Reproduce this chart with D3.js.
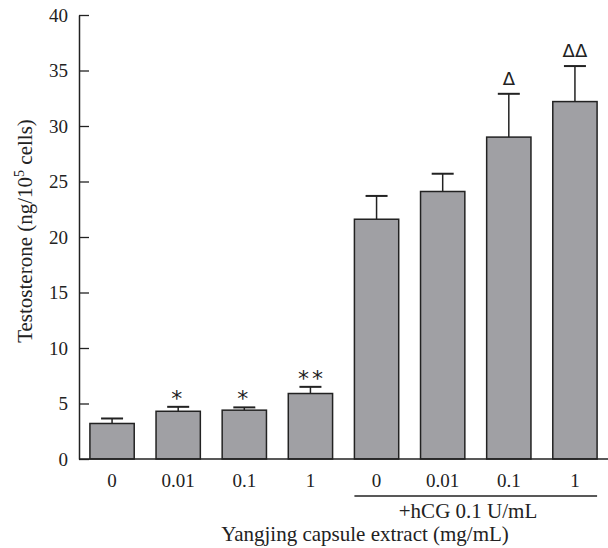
<!DOCTYPE html>
<html>
  <head>
    <meta charset="utf-8">
    <title>Testosterone</title>
    <script src="https://d3js.org/d3.v7.min.js"></script>
    <style>
      body { margin: 0; background: #fff; }
    </style>
  </head>
  <body>
    <script>
      var width = 608,
          height = 548;
      var serif = "Liberation Serif, DejaVu Serif, serif";

      // data
      var doses = ["0", "0.01", "0.1", "1", "0", "0.01", "0.1", "1"];
      var means = [3.2, 4.3, 4.4, 5.9, 21.6, 24.1, 29.0, 32.2];
      var errs = [0.45, 0.4, 0.25, 0.6, 2.1, 1.6, 3.9, 3.2];
      var marks = ["", "*", "*", "**", "", "", "\u0394", "\u0394\u0394"];
      var yTicks = [0, 5, 10, 15, 20, 25, 30, 35, 40];

      var svg = d3.select("body").append("svg")
          .attr("width", width)
          .attr("height", height)
          .attr("font-family", serif)
          .attr("fill", "#222");

      var x = d3.scaleBand()
          .domain(d3.range(doses.length))
          .range([79, 608])
          .paddingInner(0.33)
          .paddingOuter(0.165);

      var y = d3.scaleLinear()
          .domain([0, 40])
          .range([459, 15]);

      // y axis, ticks pointing inward
      var yAxis = svg.append("g")
          .attr("transform", "translate(79,0)")
          .call(d3.axisRight(y).tickValues(yTicks).tickSize(10).tickSizeOuter(0));
      yAxis.attr("font-family", serif).attr("font-size", 19);
      yAxis.select(".domain").attr("stroke", "#222").attr("stroke-width", 1.5);
      yAxis.selectAll(".tick line").attr("stroke", "#222").attr("stroke-width", 1.3);
      yAxis.selectAll(".tick text")
          .attr("x", -11)
          .attr("text-anchor", "end")
          .attr("fill", "#222");

      // error bars
      var eb = svg.append("g").selectAll("g")
          .data(means)
          .enter().append("g");
      eb.append("line")
          .attr("x1", function(d, i) { return x(i) + x.bandwidth() / 2; })
          .attr("x2", function(d, i) { return x(i) + x.bandwidth() / 2; })
          .attr("y1", function(d) { return y(d); })
          .attr("y2", function(d, i) { return y(d + errs[i]); })
          .attr("stroke", "#222").attr("stroke-width", 1.5);
      eb.append("line")
          .attr("x1", function(d, i) { return x(i) + x.bandwidth() / 2 - 11; })
          .attr("x2", function(d, i) { return x(i) + x.bandwidth() / 2 + 11; })
          .attr("y1", function(d, i) { return y(d + errs[i]); })
          .attr("y2", function(d, i) { return y(d + errs[i]); })
          .attr("stroke", "#222").attr("stroke-width", 2);

      // bars
      svg.append("g").selectAll("rect")
          .data(means)
          .enter().append("rect")
          .attr("x", function(d, i) { return x(i); })
          .attr("y", function(d) { return y(d); })
          .attr("width", x.bandwidth())
          .attr("height", function(d) { return y(0) - y(d); })
          .attr("fill", "#a0a0a4")
          .attr("stroke", "#222")
          .attr("stroke-width", 1.5);

      // significance marks
      svg.append("g").selectAll("text")
          .data(marks)
          .enter().append("text")
          .attr("x", function(d, i) {
            var c = x(i) + x.bandwidth() / 2;
            return d.indexOf("*") >= 0 && d.length > 1 ? c + 1.5 : c;
          })
          .attr("y", function(d, i) {
            var top = y(means[i] + errs[i]);
            return d.indexOf("*") >= 0 ? top - 1 : top - 9;
          })
          .attr("text-anchor", "middle")
          .attr("font-family", "DejaVu Sans, sans-serif")
          .attr("letter-spacing", function(d) { return d.indexOf("*") >= 0 ? 3 : 0; })
          .attr("font-size", function(d) { return d.indexOf("*") >= 0 ? 22 : 18; })
          .text(function(d) { return d; });

      // x axis
      svg.append("line")
          .attr("x1", 79).attr("x2", 608)
          .attr("y1", y(0)).attr("y2", y(0))
          .attr("stroke", "#222").attr("stroke-width", 1.5);

      svg.append("g").selectAll("text")
          .data(doses)
          .enter().append("text")
          .attr("x", function(d, i) { return x(i) + x.bandwidth() / 2; })
          .attr("y", 487)
          .attr("text-anchor", "middle")
          .attr("font-size", 19)
          .text(function(d) { return d; });

      // hCG group bracket
      svg.append("line")
          .attr("x1", x(4)).attr("x2", x(7) + x.bandwidth())
          .attr("y1", 496).attr("y2", 496)
          .attr("stroke", "#222").attr("stroke-width", 1.3);
      svg.append("text")
          .attr("x", 468).attr("y", 518)
          .attr("text-anchor", "middle")
          .attr("font-size", 21)
          .text("+hCG 0.1 U/mL");

      svg.append("text")
          .attr("x", 365).attr("y", 541)
          .attr("text-anchor", "middle")
          .attr("font-size", 21)
          .text("Yangjing capsule extract (mg/mL)");

      // y label
      var yl = svg.append("text")
          .attr("transform", "translate(32,231) rotate(-90)")
          .attr("text-anchor", "middle")
          .attr("font-size", 21);
      yl.append("tspan").text("Testosterone (ng/10");
      yl.append("tspan").attr("dy", -8).attr("font-size", 14).text("5");
      yl.append("tspan").attr("dy", 8).text(" cells)");
    </script>
  </body>
</html>
